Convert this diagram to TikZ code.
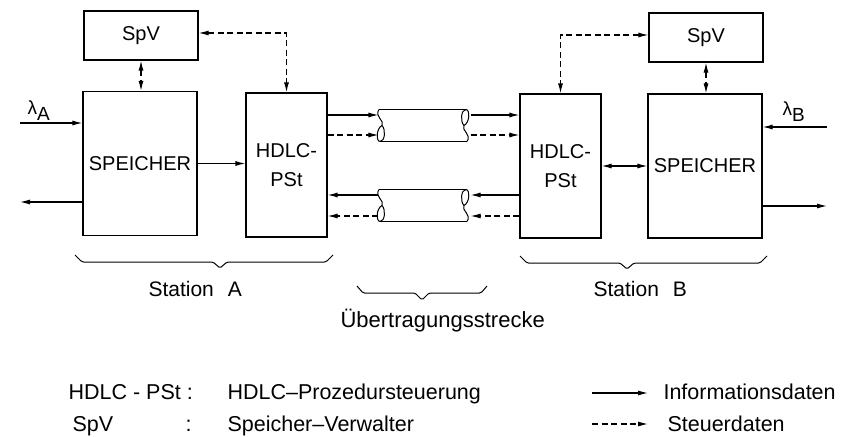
\documentclass[tikz,border=0pt]{standalone}
\usepackage{fontspec}
\setmainfont{Liberation Sans}
\usetikzlibrary{arrows.meta,calc}
\tikzset{
  cable/.pic={
    \draw (-44,-16) -- (43,-16);
    \draw (-43,16) -- (44,16);
    \draw (-44,-16) .. controls (-49,-9) and (-38,-5) .. (-41,0);
    \draw (-41,0) .. controls (-47,3) and (-47,16) .. (-43,16);
    \draw (-41,0) .. controls (-37,4) and (-38,16) .. (-43,16);
    \draw (41,0) .. controls (37,-4) and (38,-16) .. (43,-16);
    \draw (41,0) .. controls (47,-3) and (47,-16) .. (43,-16);
    \draw (41,0) .. controls (38,5) and (49,9) .. (44,16);
  }
}
\begin{document}
\begin{tikzpicture}[x=1pt,y=-1pt,line width=1.1pt,
  box/.style={draw,line width=1.2pt,inner sep=0pt,font=\fontsize{20}{29}\selectfont},
  sbox/.style={box,minimum width=114pt,minimum height=144pt},
  hbox/.style={box,minimum width=81pt,minimum height=144pt,align=center},
  vbox/.style={box,minimum width=114pt,minimum height=49pt},
  cab/.style={inner sep=0pt,minimum width=88pt,minimum height=32pt},
  info/.style={-{Latex[length=10pt,width=5pt]}},
  infob/.style={{Latex[length=10pt,width=5pt]}-{Latex[length=10pt,width=5pt]}},
  ctrl/.style={info,dash pattern=on 6pt off 3.5pt},
  ctrlb/.style={infob,dash pattern=on 6pt off 3.5pt},
  brace/.style={line width=1pt,rounded corners=1.5pt},
  lbl/.style={inner sep=0pt,font=\fontsize{21}{21}\selectfont},
  leg/.style={inner sep=0pt,font=\fontsize{21.5}{21.5}\selectfont}
]
\useasboundingbox (0,0) rectangle (853,436);

% boxes
\node[vbox] (SpVA) at (141,35.5) {SpV};
\node[sbox] (SPA) at (140,163.5) {SPEICHER};
\node[hbox] (HDA) at (286.5,165) {HDLC-\\PSt};
\node[hbox] (HDB) at (560.5,166) {HDLC-\\PSt};
\node[sbox] (SPB) at (705,166) {SPEICHER};
\node[vbox] (SpVB) at (706,37.5) {SpV};

% cables
\node[cab] (c1) at (423,125.5) {};
\pic[line width=1pt] at (c1) {cable};
\node[cab] (c2) at (423,205.5) {};
\pic[line width=1pt] at (c2) {cable};
\coordinate (c1e) at ([xshift=3pt]c1.east);
\coordinate (c2e) at ([xshift=3pt]c2.east);

% levels
\coordinate (u1) at (0,115);
\coordinate (u2) at (0,135);
\coordinate (d1) at (0,195);
\coordinate (d2) at (0,216);
\coordinate (kA) at (0,33);
\coordinate (kB) at (0,35);

% transmission arrows
\draw[info] (HDA.east |- u1) -- (c1.west |- u1);
\draw[ctrl] (HDA.east |- u2) -- (c1.west |- u2);
\draw[info] (c1e |- u1) -- (HDB.west |- u1);
\draw[ctrl] (c1e |- u2) -- (HDB.west |- u2);
\draw[info] (HDB.west |- d1) -- (c2e |- d1);
\draw[ctrl] (HDB.west |- d2) -- (c2e |- d2);
\draw[info] (c2.west |- d1) -- (HDA.east |- d1);
\draw[ctrl] (c2.west |- d2) -- (HDA.east |- d2);

% internal arrows
\draw[info] (SPA.east) -- (SPA.east -| HDA.west);
\draw[infob] (HDB.east) -- (HDB.east -| SPB.west);
\draw[ctrlb] (SpVA.south) -- (SpVA.south |- SPA.north);
\draw[ctrlb] (SpVB.south) -- (SpVB.south |- SPB.north);
\draw[ctrlb] (SpVA.east |- kA) -| (HDA.north);
\draw[ctrlb] (SpVB.west |- kB) -| (HDB.north);

% inputs / outputs
\coordinate (inA) at (20,123);
\coordinate (outA) at (20,202);
\coordinate (inB) at (827,127);
\coordinate (outB) at (827,206);
\draw[info] (inA) -- (inA -| SPA.west);
\draw[info] (outA -| SPA.west) -- (outA);
\draw[info] (inB) -- (inB -| SPB.east);
\draw[info] (outB -| SPB.east) -- (outB);
\node[anchor=south west,inner sep=0pt,font=\fontsize{19}{19}\selectfont] (lamA) at (27,121) {λ\raisebox{-6pt}{A}};
\node[anchor=south west,inner sep=0pt,font=\fontsize{19}{19}\selectfont] (lamB) at (782,122) {λ\raisebox{-6pt}{B}};

% braces
\draw[brace] (75,255) -- (82,262) -- (213,262) -- (220,268) -- (227,262) -- (326,262) -- (333,255);
\draw[brace] (520,256) -- (527,263) -- (620,263) -- (627,269) -- (634,263) -- (760,263) -- (767,256);
\draw[brace] (357,286) -- (363,293) -- (415,293) -- (422,300) -- (429,293) -- (481,293) -- (487,286);
\node[lbl,anchor=base west] (stA) at (148,296) {Station\hspace{14pt}A};
\node[lbl,anchor=base west] (stB) at (593,296) {Station\hspace{14pt}B};
\node[inner sep=0pt,font=\fontsize{22}{22}\selectfont,anchor=base west] (ueb) at (340,327) {Übertragungsstrecke};

% legend
\node[leg,anchor=base west] (k1) at (68,399) {HDLC - PSt :};
\node[leg,anchor=base west] (k2) at (72,431) {SpV};
\node[leg,anchor=base west] (k2c) at (185,431) {:};
\node[leg,anchor=base west] (e1) at (227,399) {HDLC–Prozedursteuerung};
\node[leg,anchor=base west] (e2) at (227,431) {Speicher–Verwalter};
\coordinate (a1s) at (592,393);
\coordinate (a1e) at (648,393);
\coordinate (a2s) at (592,424);
\coordinate (a2e) at (648,424);
\draw[info] (a1s) -- (a1e);
\draw[ctrl] (a2s) -- (a2e);
\node[leg,anchor=base west] (t1) at (663,399) {Informationsdaten};
\node[leg,anchor=base west] (t2) at (667,431) {Steuerdaten};
\end{tikzpicture}
\end{document}
